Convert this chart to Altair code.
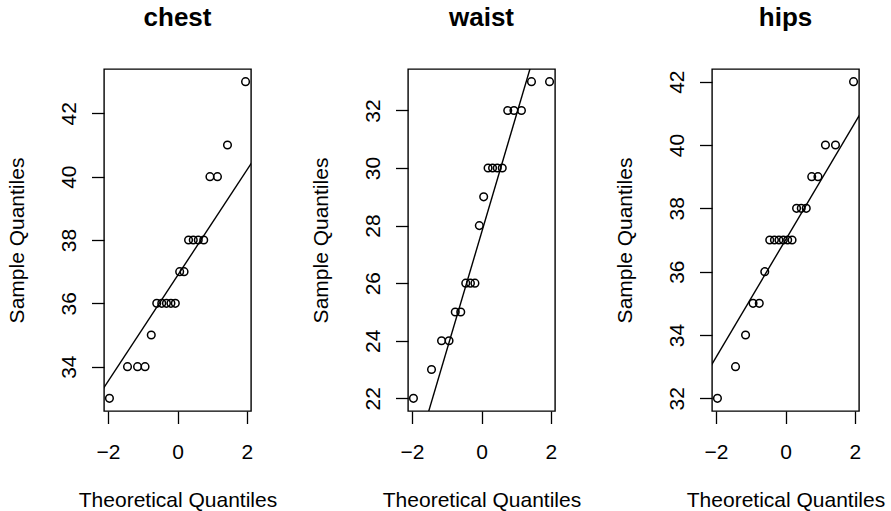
import altair as alt
import numpy as np
import pandas as pd

# Body measurements (inches) for 20 individuals
chest = [34, 37, 38, 36, 38, 43, 40, 38, 40, 41, 36, 36, 34, 33, 36, 37, 34, 36, 38, 35]
waist = [30, 32, 30, 33, 29, 32, 33, 30, 30, 32, 24, 25, 24, 22, 26, 26, 25, 26, 28, 23]
hips = [32, 37, 36, 39, 33, 38, 42, 40, 37, 39, 35, 37, 37, 34, 38, 37, 38, 37, 40, 35]

# Normal scores for n = 20, i.e. qnorm((i - 0.5) / 20)
theoretical = [-1.959964, -1.439531, -1.150349, -0.934589, -0.755415,
               -0.597760, -0.453762, -0.318639, -0.189118, -0.062707,
               0.062707, 0.189118, 0.318639, 0.453762, 0.597760,
               0.755415, 0.934589, 1.150349, 1.439531, 1.959964]
# Standard normal quartiles used for the reference line
quartile_z = [-0.6744898, 0.6744898]

x_ticks = [-2, -1, 0, 1, 2]
y_ticks = {
    "chest": [34, 36, 38, 40, 42],
    "waist": [22, 24, 26, 28, 30, 32],
    "hips": [32, 34, 36, 38, 40, 42],
}

FONT = "Liberation Sans"


def padded(lo, hi):
    ext = 0.04 * (hi - lo)
    return [lo - ext, hi + ext]


x_domain = padded(theoretical[0], theoretical[-1])


def qq_panel(name, values):
    ys = sorted(values)
    pts = pd.DataFrame({"x": theoretical, "y": ys})

    # line through the first and third quartiles
    q1, q3 = np.quantile(ys, [0.25, 0.75])
    slope = (q3 - q1) / (quartile_z[1] - quartile_z[0])
    intercept = q1 - slope * quartile_z[0]
    lx = [x_domain[0] - 1, x_domain[1] + 1]
    line = pd.DataFrame({"x": lx, "y": [intercept + slope * v for v in lx]})

    xscale = alt.Scale(domain=x_domain, nice=False, zero=False)
    yscale = alt.Scale(domain=padded(ys[0], ys[-1]), nice=False, zero=False)

    xaxis = alt.Axis(
        values=x_ticks,
        labelExpr="datum.value == -1 ? '' : datum.label",
        title="Theoretical Quantiles",
    )
    yaxis = alt.Axis(values=y_ticks[name], format="d", title="Sample Quantiles")

    points = alt.Chart(pts).mark_point(
        shape="circle", filled=False, color="black", size=58, strokeWidth=1.5, opacity=1
    ).encode(
        x=alt.X("x:Q", scale=xscale, axis=xaxis),
        y=alt.Y("y:Q", scale=yscale, axis=yaxis),
    )
    qline = alt.Chart(line).mark_line(color="black", strokeWidth=1.4, clip=True).encode(
        x=alt.X("x:Q", scale=xscale),
        y=alt.Y("y:Q", scale=yscale),
    )
    return alt.layer(points, qline).properties(
        width=147, height=342, title=alt.Title(name)
    )


chart = alt.hconcat(
    qq_panel("chest", chest),
    qq_panel("waist", waist),
    qq_panel("hips", hips),
    spacing=157,
    bounds="flush",
).properties(
    padding={"left": 5, "top": 4, "right": 0, "bottom": 0},
    background="white",
).configure_view(
    stroke="black", strokeWidth=1.4
).configure_axis(
    domain=False,
    grid=False,
    tickColor="black",
    tickSize=12.5,
    tickWidth=1.3,
    labelFont=FONT,
    labelFontSize=21,
    labelColor="black",
    titleFont=FONT,
    titleFontSize=21,
    titleFontWeight="normal",
    titleColor="black",
).configure_axisX(
    labelBaseline="alphabetic",
    labelPadding=34.8,
    titleY=95.7,
    titleBaseline="alphabetic",
).configure_axisY(
    labelAngle=-90,
    labelAlign="center",
    labelBaseline="alphabetic",
    labelPadding=16,
    titleX=-80.8,
    titleAngle=-90,
    titleBaseline="alphabetic",
).configure_title(
    font=FONT,
    fontSize=26,
    fontWeight="bold",
    color="black",
    anchor="middle",
    frame="group",
    baseline="alphabetic",
    offset=38.3,
)

chart.save("out.html", embed_options={"renderer": "svg", "actions": False})
